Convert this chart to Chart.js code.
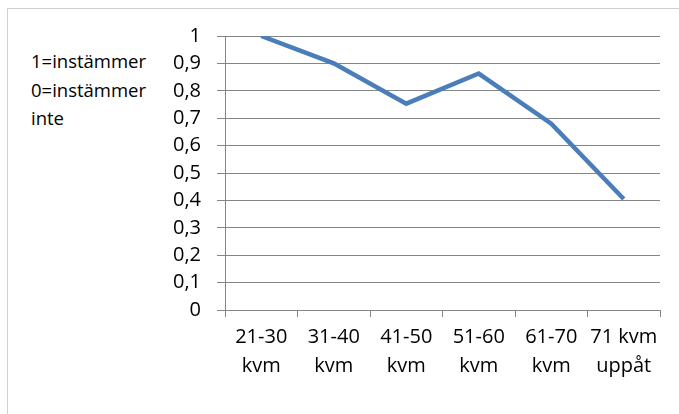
<!DOCTYPE html>
<html>
<head>
<meta charset="utf-8">
<script src="https://cdn.jsdelivr.net/npm/chart.js@4"></script>
<style>
  html, body { margin: 0; padding: 0; background: #fff; }
  #wrap { position: relative; width: 679px; height: 414px; overflow: hidden; }
  #frame { position: absolute; left: 7px; top: 8px; width: 700px; height: 450px; border: 1px solid #d0d0d0; box-sizing: border-box; }
  #note { position: absolute; left: 31px; top: 47px; font-family: "Open Sans", sans-serif; font-size: 18.5px; line-height: 28.5px; color: #000; }
  canvas { position: absolute; left: 0; top: 0; }
</style>
</head>
<body>
<div id="wrap">
  <div id="frame"></div>
  <div id="note">1=instämmer<br>0=instämmer<br>inte</div>
  <canvas id="chart" width="679" height="414"></canvas>
</div>
<script>
document.addEventListener('DOMContentLoaded', () => {

  // categories and values
  const categories = [
    ['21-30', 'kvm'],
    ['31-40', 'kvm'],
    ['41-50', 'kvm'],
    ['51-60', 'kvm'],
    ['61-70', 'kvm'],
    ['71 kvm', 'uppåt']
  ];
  const agreement = [1, 0.9, 0.753, 0.863, 0.68, 0.405];
  const yTicks = [0, 0.1, 0.2, 0.3, 0.4, 0.5, 0.6, 0.7, 0.8, 0.9, 1];

  const axisGray = '#858585';
  const font = { family: '"Open Sans", sans-serif', size: 20 };

  const ctx = document.getElementById('chart').getContext('2d');

  new Chart(ctx, {
    type: 'line',
    data: {
      labels: categories,
      datasets: [{
        label: 'Svar',
        data: agreement,
        borderColor: '#4a7ebb',
        borderWidth: 4.5,
        tension: 0,
        fill: false,
        pointRadius: 0,
        borderCapStyle: 'butt',
        borderJoinStyle: 'miter'
      }]
    },
    options: {
      responsive: false,
      animation: false,
      layout: { padding: { left: 0, top: 36, right: 19, bottom: 0 } },
      scales: {
        x: {
          offset: true,
          grid: {
            offset: true,
            drawOnChartArea: false,
            drawTicks: true,
            tickLength: 7,
            color: axisGray
          },
          border: { color: axisGray, width: 1 },
          ticks: {
            color: '#000',
            font: { ...font, lineHeight: 1.45 },
            padding: 6,
            maxRotation: 0,
            autoSkip: false
          },
          afterFit: (s) => { s.height = 414 - 310; }
        },
        y: {
          min: 0,
          max: 1,
          afterBuildTicks: (s) => { s.ticks = yTicks.map(v => ({ value: v })); },
          grid: { color: axisGray, tickLength: 8 },
          border: { color: axisGray, width: 1 },
          ticks: {
            color: '#000',
            font: font,
            padding: 16,
            callback: (v) => String(v).replace('.', ',')
          },
          afterFit: (s) => { s.width = 225; }
        }
      },
      plugins: {
        legend: { display: false },
        tooltip: { enabled: false }
      }
    }
  });

});
</script>
</body>
</html>
